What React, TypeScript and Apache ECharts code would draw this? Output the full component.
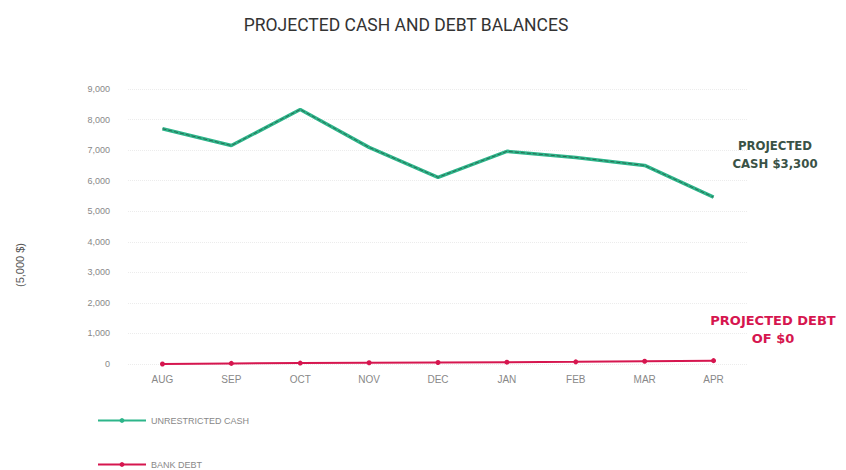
import React, { useEffect, useRef } from "react";
import * as echarts from "echarts";

const months = ["AUG", "SEP", "OCT", "NOV", "DEC", "JAN", "FEB", "MAR", "APR"];
const cashValues = [7700, 7150, 8330, 7090, 6110, 6960, 6760, 6500, 5460];
const debtValues = [0, 20, 30, 40, 50, 60, 70, 90, 110];
const yTicks = [0, 1000, 2000, 3000, 4000, 5000, 6000, 7000, 8000, 9000];

export default function App() {
  const ref = useRef<HTMLDivElement>(null);
  useEffect(() => {
    if (!ref.current) return;
    const chart = echarts.init(ref.current, undefined, { renderer: "svg" });
    const green = "#2db58a";
    const red = "#d6164f";
    const legendText = { color: "#888", fontSize: 9 };
    chart.setOption({
      animation: false,
      backgroundColor: "#ffffff",
      title: {
        text: "PROJECTED CASH AND DEBT BALANCES",
        left: 393,
        textAlign: "center",
        top: 3,
        textStyle: {
          fontFamily: "Liberation Sans Narrow, Roboto, sans-serif",
          fontSize: 17.5,
          fontWeight: "normal",
          color: "#333",
        },
      },
      grid: { left: 120, right: 106, top: 81, bottom: 114 },
      xAxis: {
        type: "category",
        data: months,
        boundaryGap: true,
        axisLine: { show: false },
        axisTick: { show: false },
        axisLabel: { color: "#888", fontSize: 10, margin: 10 },
      },
      yAxis: {
        type: "value",
        min: 0,
        max: 9000,
        interval: 1000,
        axisLine: { show: false },
        axisTick: { show: false },
        axisLabel: {
          color: "#888",
          fontSize: 9,
          margin: 18,
          formatter: (v: number) => (yTicks.includes(v) ? v.toLocaleString("en-US") : ""),
        },
        splitLine: { show: true, lineStyle: { color: "#ececec", type: "dotted", width: 1 } },
      },
      legend: [
        {
          orient: "vertical",
          left: 89,
          top: 408,
          padding: 0,
          itemWidth: 48,
          itemHeight: 6,
          textStyle: legendText,
          data: ["UNRESTRICTED CASH"],
        },
        {
          orient: "vertical",
          left: 89,
          top: 452,
          padding: 0,
          itemWidth: 48,
          itemHeight: 6,
          textStyle: legendText,
          data: ["BANK DEBT"],
        },
      ],
      series: [
        {
          name: "UNRESTRICTED CASH",
          type: "line",
          data: cashValues,
          symbol: "none",
          lineStyle: { color: green, width: 3.5 },
          itemStyle: { color: green },
          z: 2,
        },
        {
          name: "cash-overlay",
          type: "line",
          data: cashValues,
          symbol: "none",
          lineStyle: { color: "#2a4a3c", width: 1, type: "dashed", opacity: 0.7 },
          z: 3,
        },
        {
          name: "BANK DEBT",
          type: "line",
          data: debtValues,
          symbol: "circle",
          symbolSize: 5,
          lineStyle: { color: red, width: 2 },
          itemStyle: { color: red },
          z: 4,
        },
      ],
      graphic: [
        {
          type: "text",
          x: 767,
          y: 128,
          style: {
            text: "PROJECTED\nCASH $3,300",
            fill: "#3a5246",
            font: "bold 13px 'DejaVu Sans Condensed', sans-serif",
            align: "center",
            verticalAlign: "top",
            lineHeight: 18,
          },
        },
        {
          type: "text",
          x: 765,
          y: 303,
          style: {
            text: "PROJECTED DEBT\nOF $0",
            fill: red,
            font: "bold 13px 'DejaVu Sans', sans-serif",
            align: "center",
            verticalAlign: "top",
            lineHeight: 18,
          },
        },
        {
          type: "text",
          x: 12,
          y: 257,
          rotation: Math.PI / 2,
          style: {
            text: "(5,000 $)",
            fill: "#555",
            font: "11px sans-serif",
            align: "center",
            verticalAlign: "middle",
          },
        },
      ],
    });
    return () => chart.dispose();
  }, []);
  return <div ref={ref} style={{ width: 846, height: 470 }} />;
}
